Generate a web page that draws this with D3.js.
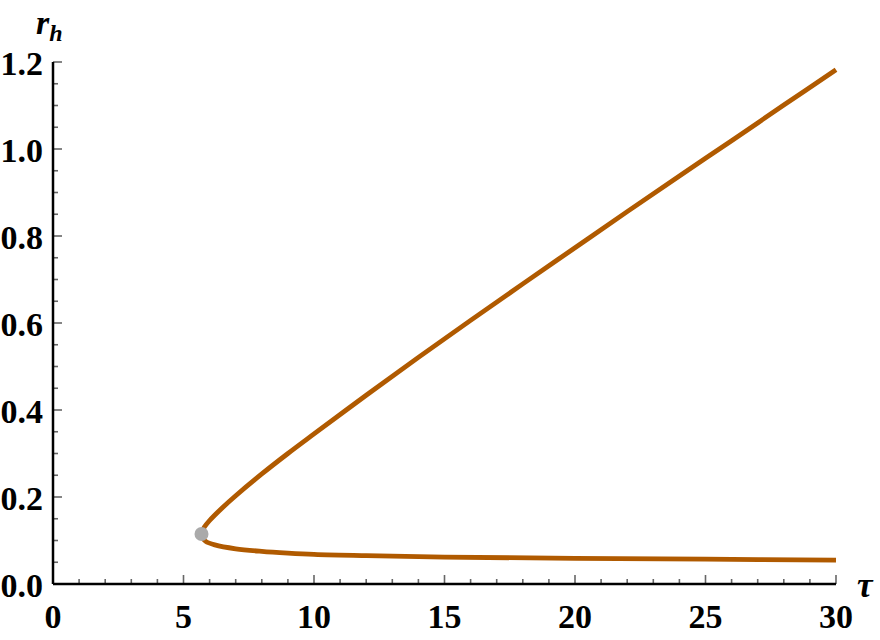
<!DOCTYPE html>
<html>
<head>
<meta charset="utf-8">
<script src="https://cdn.jsdelivr.net/npm/d3@7"></script>
<style>
  body { margin: 0; background: #fff; }
  text { font-family: "Liberation Serif", "Times New Roman", serif; font-weight: bold; }
</style>
</head>
<body>
<div id="chart"></div>
<script>
// branch of r_h vs tau
// upper branch, from the right end down to the turning point
let upperTau = [30, 28, 26, 24, 22, 20, 18, 16, 14, 12, 10, 9, 8, 7, 6.5, 6.0, 5.8, 5.72];
let upperRh  = [1.182, 1.101, 1.019, 0.938, 0.856, 0.773, 0.69, 0.606, 0.521, 0.434, 0.345, 0.3, 0.253, 0.203, 0.176, 0.146, 0.131, 0.122];
// lower branch, from the turning point to the right end
let lowerTau = [5.72, 5.85, 6.2, 7, 8, 9, 10, 12, 15, 20, 25, 30];
let lowerRh  = [0.107, 0.098, 0.09, 0.081, 0.075, 0.071, 0.068, 0.065, 0.062, 0.059, 0.057, 0.055];
let turnPoint = [5.69, 0.115];

let xTicks = [0, 5, 10, 15, 20, 25, 30];
let yTicks = [0.0, 0.2, 0.4, 0.6, 0.8, 1.0, 1.2];

let width = 880;
let height = 640;

let svg = d3.select('#chart')
  .append("svg")
  .attr("width", width)
  .attr("height", height);

let x = d3.scaleLinear().domain([0, 30]).range([53, 836]);
let y = d3.scaleLinear().domain([0, 1.2]).range([584, 62]);

// minor ticks
let xMinor = d3.range(0, 31, 1).filter(d => d % 5 != 0);
let yMinor = d3.range(0, 25, 1).map(d => d * 0.05).filter((d, i) => i % 4 != 0);

let ticks = svg.append("g").attr("stroke", "#666").attr("stroke-width", 1.6);

ticks.selectAll(".xmaj").data(xTicks).enter().append("line")
  .attr("x1", d => x(d)).attr("x2", d => x(d))
  .attr("y1", y(0)).attr("y2", y(0) - 9);
ticks.selectAll(".xmin").data(xMinor).enter().append("line")
  .attr("x1", d => x(d)).attr("x2", d => x(d))
  .attr("y1", y(0)).attr("y2", y(0) - 5);
ticks.selectAll(".ymaj").data(yTicks).enter().append("line")
  .attr("y1", d => y(d)).attr("y2", d => y(d))
  .attr("x1", x(0)).attr("x2", x(0) + 9);
ticks.selectAll(".ymin").data(yMinor).enter().append("line")
  .attr("y1", d => y(d)).attr("y2", d => y(d))
  .attr("x1", x(0)).attr("x2", x(0) + 5);

// axis lines
svg.append("line")
  .attr("x1", x(0)).attr("x2", x(30))
  .attr("y1", y(0)).attr("y2", y(0))
  .attr("stroke", "#000").attr("stroke-width", 2.5);
svg.append("line")
  .attr("x1", x(0)).attr("x2", x(0))
  .attr("y1", y(0)).attr("y2", y(1.2))
  .attr("stroke", "#000").attr("stroke-width", 2.5);

// tick labels
svg.selectAll(".xlab").data(xTicks).enter().append("text")
  .attr("x", d => x(d))
  .attr("y", 628)
  .attr("text-anchor", "middle")
  .style("font-size", "34px")
  .text(d => d);

svg.selectAll(".ylab").data(yTicks).enter().append("text")
  .attr("x", 43)
  .attr("y", d => y(d) + 13)
  .attr("text-anchor", "end")
  .style("font-size", "34px")
  .text(d => d.toFixed(1));

// axis titles
let yTitle = svg.append("text")
  .attr("x", 36)
  .attr("y", 34)
  .style("font-size", "34px")
  .style("font-style", "italic");
yTitle.append("tspan").text("r");
yTitle.append("tspan").attr("dy", 7).style("font-size", "24px").text("h");

svg.append("text")
  .attr("x", 857)
  .attr("y", 597)
  .style("font-size", "35px")
  .style("font-style", "italic")
  .text("τ");

// curve
let pts = upperTau.map((t, i) => [t, upperRh[i]])
  .concat([turnPoint])
  .concat(lowerTau.map((t, i) => [t, lowerRh[i]]));

let line = d3.line()
  .x(d => x(d[0]))
  .y(d => y(d[1]))
  .curve(d3.curveCatmullRom.alpha(0.5));

svg.append("path")
  .datum(pts)
  .attr("d", line)
  .attr("fill", "none")
  .attr("stroke", "#b05a00")
  .attr("stroke-width", 4.8)
  .attr("stroke-linejoin", "round");

svg.append("circle")
  .attr("cx", x(turnPoint[0]))
  .attr("cy", y(turnPoint[1]))
  .attr("r", 7)
  .attr("fill", "#aaaaaa");
</script>
</body>
</html>
